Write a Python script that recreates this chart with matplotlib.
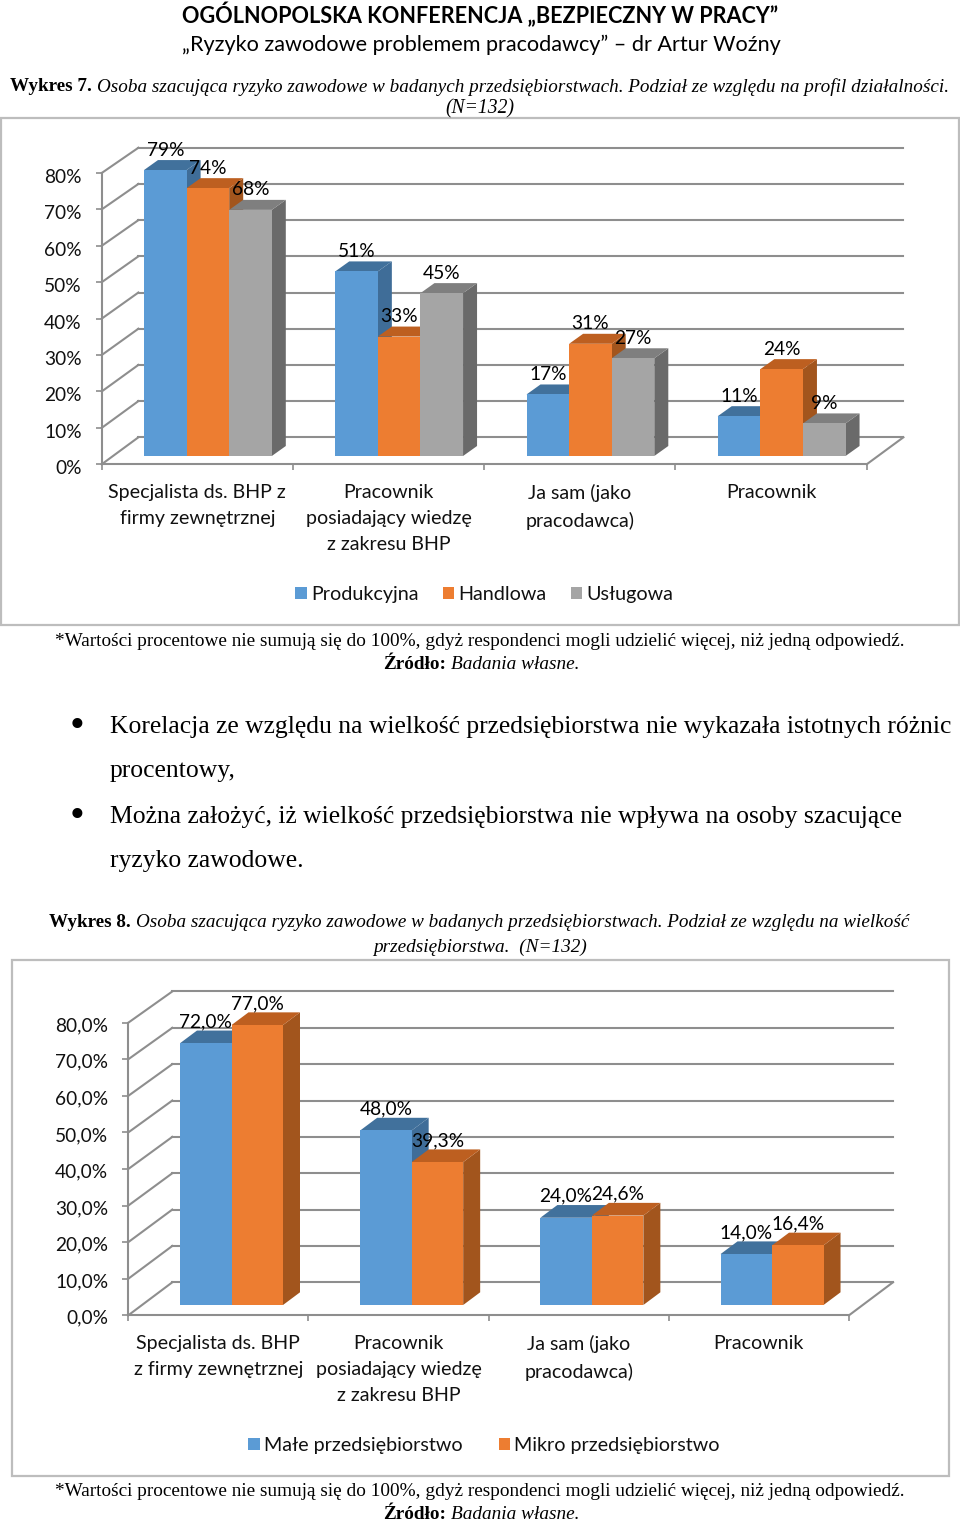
import matplotlib
matplotlib.use("Agg")
import matplotlib.pyplot as plt
from matplotlib.patches import Patch, Rectangle
from matplotlib.transforms import ScaledTranslation

W, H = 960, 1522
DPI = 100
PX = 72 / DPI  # points per pixel
BACK_SCALE = 0.994  # the back plane of the 3D box is a little smaller than the front

SERIF = "Liberation Serif"
SANS = "Lato"

# Wykres 7
categories_7 = ["Specjalista ds. BHP z\nfirmy zewnętrznej",
                "Pracownik\nposiadający wiedzę\nz zakresu BHP",
                "Ja sam (jako\npracodawca)",
                "Pracownik"]
produkcyjna = [79, 51, 17, 11]
handlowa = [74, 33, 31, 24]
uslugowa = [68, 45, 27, 9]
series_names_7 = ["Produkcyjna", "Handlowa", "Usługowa"]
labels_7 = [["79%", "51%", "17%", "11%"],
            ["74%", "33%", "31%", "24%"],
            ["68%", "45%", "27%", "9%"]]
yticks_7 = ["0%", "10%", "20%", "30%", "40%", "50%", "60%", "70%", "80%"]

# Wykres 8
categories_8 = ["Specjalista ds. BHP\nz firmy zewnętrznej",
                "Pracownik\nposiadający wiedzę\nz zakresu BHP",
                "Ja sam (jako\npracodawca)",
                "Pracownik"]
male = [72.0, 48.0, 24.0, 14.0]
mikro = [77.0, 39.3, 24.6, 16.4]
series_names_8 = ["Małe przedsiębiorstwo", "Mikro przedsiębiorstwo"]
labels_8 = [["72,0%", "48,0%", "24,0%", "14,0%"],
            ["77,0%", "39,3%", "24,6%", "16,4%"]]
yticks_8 = ["0,0%", "10,0%", "20,0%", "30,0%", "40,0%", "50,0%", "60,0%", "70,0%", "80,0%"]

GRID = "#8e8e8e"
FRONT = ["#5b9bd5", "#ed7d31", "#a5a5a5"]
TOP = ["#41719c", "#bd5f20", "#7f7f7f"]
SIDE = ["#3f6d98", "#a2551d", "#6a6a6a"]


def page_text(x, y, s, size=18.5, family=SERIF, **kw):
    """Text placed by its pixel position on the page"""
    kw.setdefault("va", "center")
    return fig.text(x / W, 1 - (y + 1.8) / H, s, fontsize=size * PX, family=family,
                    color="black", **kw)


def mixed_line(x, y, parts, size=18.5, family=SERIF):
    """One line made of several styled runs, left to right"""
    renderer = fig.canvas.get_renderer()
    for s, weight, style in parts:
        t = page_text(x, y, s, size=size, family=family, weight=weight, style=style)
        x += t.get_window_extent(renderer).width + size * 0.25


def draw_chart(left, right, y0, y80, depth, bar_depth, base_lift, bar_start, bar_w,
               series, labels, names, cats, yticks, box, legend_pos, cat_pad, linespacing,
               label_gap, ytick_shift):
    fig.add_artist(Rectangle((box[0] / W, 1 - box[3] / H), (box[2] - box[0]) / W,
                             (box[3] - box[1]) / H, transform=fig.transFigure,
                             fill=False, edgecolor="#bdbdbd", linewidth=1.6))

    ax = fig.add_axes([left / W, 1 - y0 / H, (right - left) / W, (y0 - y80) / H])
    ax.set_xlim(0, 4)
    ax.set_ylim(0, 80)
    ax.patch.set_alpha(0)

    px_x = 4 / (right - left)
    px_y = 80 / (y0 - y80)
    dx, dy = depth[0] * px_x, depth[1] * px_y
    bdx, bdy = bar_depth[0] * px_x, bar_depth[1] * px_y
    lift = base_lift * px_y
    start, width = bar_start * px_x, bar_w * px_x

    # wall and floor lines
    for level in range(0, 90, 10):
        back = level * BACK_SCALE + dy
        ax.plot([0, dx], [level, back], color=GRID, lw=1.5, clip_on=False, zorder=1)
        ax.plot([dx, 4 + dx], [back, back], color=GRID, lw=1.5, clip_on=False, zorder=1)
    ax.plot([4, 4 + dx], [0, dy], color=GRID, lw=1.5, clip_on=False, zorder=1)

    for s, vals in enumerate(series):
        xs = [g + start + s * width for g in range(4)]
        heights = [v * BACK_SCALE for v in vals]
        z = 3 + s
        for x, h in zip(xs, heights):
            r = x + width
            top = h + lift
            ax.fill([r, r + bdx, r + bdx, r], [lift, lift + bdy, top + bdy, top],
                    color=SIDE[s], lw=0, clip_on=False, zorder=z)
            ax.fill([x, x + bdx, r + bdx, r], [top, top + bdy, top + bdy, top],
                    color=TOP[s], lw=0, clip_on=False, zorder=z)
        ax.bar(xs, heights, width=width, bottom=lift, align="edge", color=FRONT[s],
               linewidth=0, clip_on=False, zorder=z)

    for s, vals in enumerate(series):
        for g, v in enumerate(vals):
            ax.annotate(labels[s][g], (g + start + (s + 0.5) * width, v * BACK_SCALE + lift),
                        xytext=(0, label_gap * PX), textcoords="offset points", ha="center",
                        va="center", fontsize=19.2 * PX, family=SANS, color="black",
                        zorder=10, annotation_clip=False)

    for name in ["top", "right"]:
        ax.spines[name].set_visible(False)
    for name in ["left", "bottom"]:
        ax.spines[name].set_color(GRID)
        ax.spines[name].set_linewidth(1.5)
    ax.spines["left"].set_zorder(2)
    ax.spines["bottom"].set_zorder(2)

    ax.set_yticks(range(0, 90, 10))
    ax.set_yticklabels(yticks, fontsize=19.2 * PX, family=SANS, color="#111111")
    ax.tick_params(axis="y", color=GRID, width=1.2, length=6 * PX, pad=14 * PX)
    shift = ScaledTranslation(0, -ytick_shift / DPI, fig.dpi_scale_trans)
    for t in ax.get_yticklabels():
        t.set_transform(t.get_transform() + shift)

    ax.set_xticks(range(5))
    ax.set_xticklabels([])
    ax.tick_params(axis="x", color=GRID, width=1.2, length=6 * PX)
    ax.set_xticks([g + 0.5 for g in range(4)], labels=cats, minor=True)
    ax.tick_params(axis="x", which="minor", length=0, pad=cat_pad * PX)
    for t in ax.get_xticklabels(minor=True):
        t.set_fontsize(19.6 * PX)
        t.set_family(SANS)
        t.set_color("#111111")
        t.set_linespacing(linespacing)
        t.set_verticalalignment("top")

    handles = [Patch(color=FRONT[i], linewidth=0) for i in range(len(names))]
    fig.legend(handles, names, loc="center", ncol=len(names),
               bbox_to_anchor=(legend_pos[0] / W, 1 - legend_pos[1] / H), frameon=False,
               prop={"family": SANS, "size": 19.8 * PX}, handlelength=0.58, handleheight=0.58,
               handletextpad=0.22, columnspacing=legend_pos[2], labelcolor="#111111")


fig = plt.figure(figsize=(W / DPI, H / DPI), dpi=DPI, facecolor="white")

page_text(480, 13, "OGÓLNOPOLSKA KONFERENCJA „BEZPIECZNY W PRACY”", size=21.7, family=SANS,
          weight="bold", ha="center")
page_text(481, 43, "„Ryzyko zawodowe problemem pracodawcy” – dr Artur Woźny", size=21.6, family=SANS,
          ha="center")

mixed_line(10, 85, [("Wykres 7.", "bold", "normal"),
                    ("Osoba szacująca ryzyko zawodowe w badanych przedsiębiorstwach. Podział ze względu na profil działalności.", "normal", "italic")],
           size=19.13)
page_text(480, 107, "(N=132)", size=19.6, style="italic", ha="center")

draw_chart(101.7, 866.7, 464.3, 173, (36.7, 27), (14, 10), 8.3, 42.3, 42.6,
           [produkcyjna, handlowa, uslugowa], labels_7, series_names_7, categories_7, yticks_7,
           (1, 117.5, 959, 625), (484.5, 594.5, 1.22), 20, 1.62, 20, 3)

page_text(480, 640, "*Wartości procentowe nie sumują się do 100%, gdyż respondenci mogli udzielić więcej, niż jedną odpowiedź.",
          size=19.3, ha="center")
mixed_line(383, 663, [("Źródło:", "bold", "normal"), ("Badania własne.", "normal", "italic")], size=19.3)

page_text(77, 725, "•", size=42, ha="center")
page_text(110, 725, "Korelacja ze względu na wielkość przedsiębiorstwa nie wykazała istotnych różnic", size=25.6)
page_text(110, 769, "procentowy,", size=25.6)
page_text(77, 815, "•", size=42, ha="center")
page_text(110, 815, "Można założyć, iż wielkość przedsiębiorstwa nie wpływa na osoby szacujące", size=25.6)
page_text(110, 859, "ryzyko zawodowe.", size=25.6)

mixed_line(49, 921, [("Wykres 8.", "bold", "normal"),
                     ("Osoba szacująca ryzyko zawodowe w badanych przedsiębiorstwach. Podział ze względu na wielkość", "normal", "italic")],
           size=19.13)
page_text(480, 946, "przedsiębiorstwa.  (N=132)", size=19.3, style="italic", ha="center")

draw_chart(128.3, 849, 1315.3, 1022.7, (44, 33), (17, 12.7), 10.3, 51.7, 51.5,
           [male, mikro], labels_8, series_names_8, categories_8, yticks_8,
           (11.5, 960, 949, 1476), (484, 1445.5, 1.82), 20, 1.62, 21.5, 1.5)

page_text(480, 1490, "*Wartości procentowe nie sumują się do 100%, gdyż respondenci mogli udzielić więcej, niż jedną odpowiedź.",
          size=19.3, ha="center")
mixed_line(383, 1513, [("Źródło:", "bold", "normal"), ("Badania własne.", "normal", "italic")], size=19.3)

fig.savefig("out.png", dpi=DPI)
